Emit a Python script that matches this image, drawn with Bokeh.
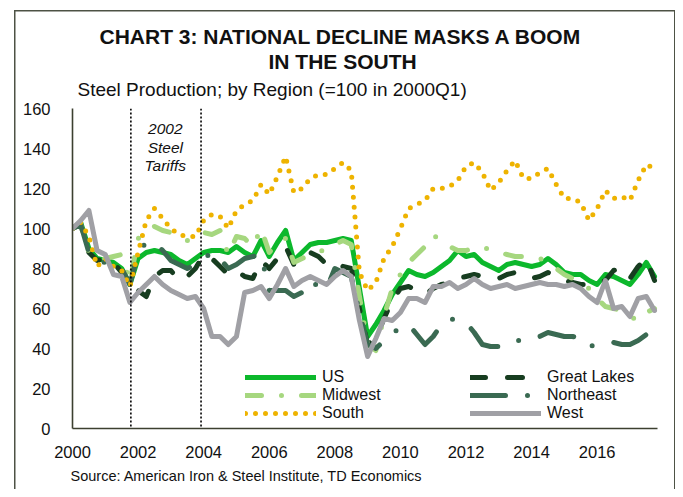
from bokeh.plotting import figure
from bokeh.models import (Range1d, FixedTicker, Span, Label, Legend, LegendItem,
                          Title)
from bokeh.embed import file_html
from bokeh.resources import INLINE

FONT = "Liberation Sans"

# ---- data (quarterly, 2000Q1 .. 2017Q4, index =100 in 2000Q1) ----
start_year = 2000
us = [100, 103, 90, 85, 84, 83, 80, 72, 85, 88, 89, 88, 87, 84, 82, 85,
      88, 89, 89, 88, 91, 88, 86, 94, 86, 93, 99, 84, 88, 92, 93, 93,
      94, 95, 94, 70, 46, 52, 59, 67, 73, 79, 77, 76, 78, 81, 84, 89,
      86, 87, 83, 81, 79, 82, 83, 82, 81, 82, 85, 82, 78, 77, 77, 74,
      72, 77, 76, 74, 72, 77, 83, 76]
great_lakes = [100, 102, 88, 84, 85, 83, 78, 68, 69, 66, 76, 79, 79, 74, 76, 80,
               87, 85, 81, 77, 79, 76, 75, 84, 80, 85, 91, 82, 84, 88, 86, 82,
               83, 81, 80, 60, 42, 45, 55, 64, 70, 71, 69, 67, 70, 72, 73, 75,
               76, 77, 76, 76, 75, 77, 78, 76, 75, 76, 78, 76, 74, 73, 72, 72,
               72, 74, 79, 80, 75, 81, 85, 74]
midwest = [100, 102, 88, 85, 85, 86, 87, 73, 95, 99, 101, 99, 98, 96, 94, 95,
           98, 97, 99, 87, 96, 95, 91, 100, 88, 93, 95, 83, 85, 87, 88, 90,
           92, 94, 92, 66, 42, 39, 56, 70, 77, 83, 87, 91, 97, 93, 91, 89,
           89, 90, 91, 89, 88, 87, 86, 86, 86, 85, 83, 80, 77, 75, 73, 70,
           65, 61, 60, 59, 56, 54, 58, 60]
northeast = [100, 102, 88, 84, 83, 82, 80, 72, 88, 93, 93, 89, 84, 82, 80, 82,
             85, 88, 85, 80, 82, 85, 86, 87, 69, 69, 69, 66, 68, 74, 71, 70,
             80, 78, 76, 58, 42, 40, 44, 48, 50, 52, 47, 42, 46, 52, 55, 54,
             53, 48, 42, 41, 41, 43, 44, 44, 45, 46, 48, 47, 46, 46, 45, 41,
             42, 43, 43, 42, 42, 44, 47, 47]
south = [100, 103, 96, 81, 85, 81, 79, 71, 88, 104, 110, 105, 100, 97, 96, 96,
         104, 107, 106, 100, 109, 112, 114, 122, 117, 126, 136, 118, 120, 125, 127, 127,
         130, 133, 129, 78, 69, 73, 85, 91, 100, 110, 112, 114, 120, 120, 121, 124,
         131, 133, 128, 119, 123, 129, 134, 125, 125, 128, 130, 122, 115, 115, 113, 104,
         110, 119, 115, 116, 114, 124, 132, 130]
west = [100, 104, 109, 89, 87, 77, 76, 63, 68, 72, 76, 72, 69, 67, 65, 66,
        60, 46, 46, 42, 46, 68, 69, 71, 65, 72, 80, 71, 74, 76, 74, 72,
        76, 79, 76, 54, 36, 45, 55, 54, 58, 65, 65, 63, 71, 71, 73, 70,
        72, 75, 72, 70, 71, 72, 70, 71, 72, 73, 72, 72, 71, 72, 70, 66,
        63, 74, 60, 61, 56, 65, 66, 59]
x_ticks = [2000, 2002, 2004, 2006, 2008, 2010, 2012, 2014, 2016]
y_ticks = [0, 20, 40, 60, 80, 100, 120, 140, 160]
tariff_lines = [2001.78, 2003.92]
tariff_text = ["2002", "Steel", "Tariffs"]

t = [start_year + i / 4 for i in range(len(us))]

BORDER = "#4d5245"
grad = f"linear-gradient({BORDER},{BORDER})"
frame_css = {
    "background-color": "white",
    "background-image": f"{grad}, {grad}, {grad}",
    "background-size": "661px 1.5px, 1.5px 490px, 1.5px 490px",
    "background-position": "14px 10px, 14px 10px, 673.5px 10px",
    "background-repeat": "no-repeat",
}

p = figure(width=675, height=489, output_backend="svg", toolbar_location=None,
           x_range=Range1d(2000, 2017.84), y_range=Range1d(0, 160),
           min_border_left=72, min_border_right=18, min_border_top=108,
           min_border_bottom=61, styles=frame_css)
p.outline_line_color = None
p.xgrid.visible = False
p.ygrid.visible = False
p.background_fill_color = None
p.border_fill_color = None

axis_color = "#3c4030"
for ax in (p.xaxis[0], p.yaxis[0]):
    ax.axis_line_color = axis_color
    ax.axis_line_width = 1.6
    ax.major_tick_line_color = None
    ax.minor_tick_line_color = None
    ax.major_label_text_font = FONT
    ax.major_label_text_font_size = "16.5px"
    ax.major_label_text_color = "#111111"
p.xaxis.ticker = FixedTicker(ticks=x_ticks)
p.xaxis.major_label_overrides = {v: str(v) for v in x_ticks}
p.xaxis.major_label_standoff = 11
p.yaxis.ticker = FixedTicker(ticks=y_ticks)
p.yaxis.major_label_standoff = 16

# tariff markers
for loc in tariff_lines:
    p.add_layout(Span(location=loc, dimension="height", line_color="black",
                      line_width=1.6, line_dash="2 2"))
for txt, yy in zip(tariff_text, [150, 140.5, 131.5]):
    p.add_layout(Label(x=2002.83, y=yy, text=txt, text_align="center",
                       text_baseline="middle", text_font=FONT,
                       text_font_style="italic", text_font_size="15.5px",
                       text_color="#111111"))

styles = {
    "US": dict(color="#0cb82c", dash="solid"),
    "Great Lakes": dict(color="#173d20", dash="15 22"),
    "Midwest": dict(color="#a6d77f", dash="16 20 0 20"),
    "Northeast": dict(color="#3a6a52", dash="35 22 0 22"),
    "South": dict(color="#eeb300", dash="0 10"),
    "West": dict(color="#a0a0a5", dash="solid"),
}
series = [("US", us), ("Great Lakes", great_lakes), ("Midwest", midwest),
          ("Northeast", northeast), ("South", south), ("West", west)]
rend = {}
for name, vals in series:
    s = styles[name]
    rend[name] = p.line(t, vals, line_color=s["color"], line_width=5,
                        line_dash=s["dash"], line_cap="round",
                        line_join="round")

def make_legend(names, x, y):
    lg = Legend(items=[LegendItem(label=n, renderers=[rend[n]]) for n in names],
                location=(x, y), orientation="vertical")
    lg.border_line_color = None
    lg.background_fill_alpha = 0
    lg.padding = 0
    lg.margin = 0
    lg.spacing = 0
    lg.glyph_width = 71
    lg.glyph_height = 18
    lg.label_height = 18
    lg.label_standoff = 6
    lg.label_text_font = FONT
    lg.label_text_font_size = "16px"
    lg.label_text_color = "#111111"
    return lg

p.add_layout(make_legend(["US", "Midwest", "South"], 173, 6))
p.add_layout(make_legend(["Great Lakes", "Northeast", "West"], 398, 6))

# titles (first added = nearest the plot frame)
p.add_layout(Title(text="Steel Production; by Region (=100 in 2000Q1)",
                   align="left", offset=5, standoff=13, vertical_align="top",
                   text_font=FONT, text_font_size="19px",
                   text_font_style="normal", text_color="#111111"), "above")
p.add_layout(Title(text="IN THE SOUTH", align="left", offset=196,
                   standoff=0, text_font=FONT, text_font_size="21px",
                   text_font_style="bold", text_color="#111111"), "above")
p.add_layout(Title(text="CHART 3: NATIONAL DECLINE MASKS A BOOM", align="left",
                   offset=27, standoff=0, text_font=FONT,
                   text_font_size="21px", text_font_style="bold",
                   text_color="#111111"), "above")
p.add_layout(Title(text="Source: American Iron & Steel Institute, TD Economics",
                   align="left", offset=-2, standoff=10, text_font=FONT,
                   text_font_size="14.5px", text_font_style="normal",
                   text_color="#111111"), "below")

open("out.html", "w").write(file_html(p, INLINE))
